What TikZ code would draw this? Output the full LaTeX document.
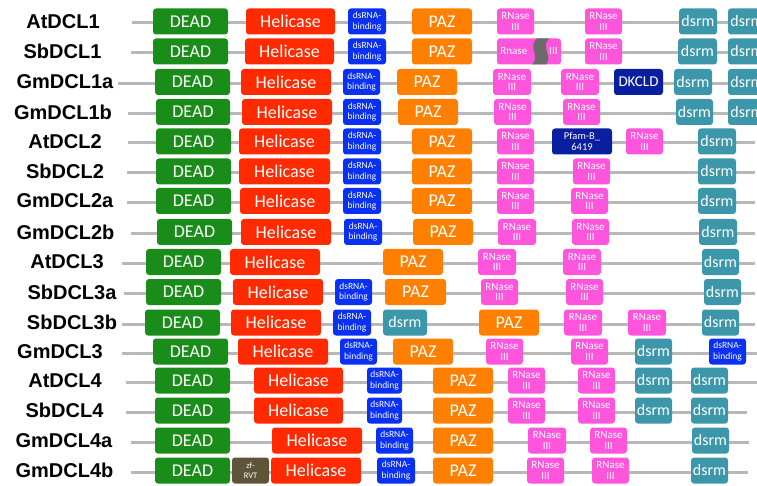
\documentclass[tikz,border=0pt]{standalone}
\usepackage{fontspec}
\setmainfont{Carlito}
\newfontfamily\labelfont{Liberation Sans}
\definecolor{deadgreen}{HTML}{1A8C1A}
\definecolor{helred}{HTML}{FF2A00}
\definecolor{dsblue}{HTML}{0A30F2}
\definecolor{pazorange}{HTML}{FF8000}
\definecolor{rnpink}{HTML}{FF55DC}
\definecolor{dsrmteal}{HTML}{3B97A9}
\definecolor{navy}{HTML}{0A1FA0}
\definecolor{zfbrown}{HTML}{5E5539}
\definecolor{backgray}{HTML}{B8B8B8}
% one row: name, label x, y, line start, line end
\newcommand\protrow[5]{%
  \def\ry{#3}\def\rn{#1}%
  \node[rowlabel] (#1) at (#2,#3) {#1};
  \coordinate (#1-s) at (#4,#3+1.5);
  \coordinate (#1-e) at (#5,#3+1.5);
  \draw[backbone] (#1-s) -- (#1-e);}
% one domain: style, left, right, tag, text
\newcommand\dm[5]{\node[#1,minimum width={#3-#2}] (\rn-#4) at ({(#2+#3)/2},\ry) {#5};}
\begin{document}
\begin{tikzpicture}[x=1pt,y=-1pt]
  \tikzset{
    rowlabel/.style={font=\labelfont\bfseries\fontsize{20}{20}\selectfont},
    backbone/.style={backgray,line width=3pt},
    dom/.style={rounded corners=3pt,inner sep=0pt,minimum height=26pt,
      text=white,align=center,font=\fontsize{18}{18}\selectfont},
    dead/.style={dom,fill=deadgreen},
    hel/.style={dom,fill=helred},
    dsbind/.style={dom,fill=dsblue,font=\fontsize{9.5}{10.5}\selectfont},
    paz/.style={dom,fill=pazorange},
    rnase/.style={dom,fill=rnpink,font=\fontsize{11}{10.5}\selectfont},
    dsrm/.style={dom,fill=dsrmteal,font=\fontsize{16}{16}\selectfont},
    dkcld/.style={dom,fill=navy,font=\fontsize{15}{15}\selectfont},
    pfam/.style={dom,fill=navy,font=\fontsize{10.5}{11}\selectfont},
    zfrvt/.style={dom,fill=zfbrown,font=\fontsize{8.5}{10}\selectfont}
  }
  \useasboundingbox (0,0) rectangle (757,486);
  \clip (0,0) rectangle (757,486);
  % DCL1
  \protrow{AtDCL1}{63}{21.5}{132}{757}
  \dm{dead}{153}{228}{dead}{DEAD}
  \dm{hel}{246}{335}{hel}{Helicase}
  \dm{dsbind}{348}{386}{ds}{dsRNA-\\binding}
  \dm{paz}{412}{472}{paz}{PAZ}
  \dm{rnase}{497}{534}{rn1}{RNase\\III}
  \dm{rnase}{585}{622}{rn2}{RNase\\III}
  \dm{dsrm}{679}{717}{dsrm1}{dsrm}
  \dm{dsrm}{728}{766}{dsrm2}{dsrm}
  \protrow{SbDCL1}{62.5}{51.5}{131}{757}
  \dm{dead}{153}{228}{dead}{DEAD}
  \dm{hel}{245}{334}{hel}{Helicase}
  \dm{dsbind}{348}{386}{ds}{dsRNA-\\binding}
  \dm{paz}{412}{472}{paz}{PAZ}
  \dm{rnase}{497}{561}{rn1}{Rnase\hspace{22pt}III}
  \fill[black!58] (537,38.5) .. controls (527,47) and (541,56) .. (532,64.5)
    -- (546,64.5) .. controls (553,56) and (540,47) .. (549,38.5) -- cycle;
  \dm{rnase}{585}{622}{rn2}{RNase\\III}
  \dm{dsrm}{678}{717}{dsrm1}{dsrm}
  \dm{dsrm}{728}{766}{dsrm2}{dsrm}
  \protrow{GmDCL1a}{65}{82}{118}{757}
  \dm{dead}{155}{230}{dead}{DEAD}
  \dm{hel}{241}{331}{hel}{Helicase}
  \dm{dsbind}{343}{380}{ds}{dsRNA-\\binding}
  \dm{paz}{397}{457}{paz}{PAZ}
  \dm{rnase}{493}{531}{rn1}{RNase\\III}
  \dm{rnase}{561}{599}{rn2}{RNase\\III}
  \dm{dkcld}{614}{663}{dk}{DKCLD}
  \dm{dsrm}{674}{712}{dsrm1}{dsrm}
  \dm{dsrm}{728}{766}{dsrm2}{dsrm}
  \protrow{GmDCL1b}{63}{112}{128}{757}
  \dm{dead}{156}{230}{dead}{DEAD}
  \dm{hel}{242}{332}{hel}{Helicase}
  \dm{dsbind}{343}{381}{ds}{dsRNA-\\binding}
  \dm{paz}{398}{458}{paz}{PAZ}
  \dm{rnase}{494}{531}{rn1}{RNase\\III}
  \dm{rnase}{563}{600}{rn2}{RNase\\III}
  \dm{dsrm}{676}{713}{dsrm1}{dsrm}
  \dm{dsrm}{728}{766}{dsrm2}{dsrm}
  % DCL2
  \protrow{AtDCL2}{65}{141.5}{128}{755}
  \dm{dead}{156}{231}{dead}{DEAD}
  \dm{hel}{239}{330}{hel}{Helicase}
  \dm{dsbind}{343}{381}{ds}{dsRNA-\\binding}
  \dm{paz}{412}{472}{paz}{PAZ}
  \dm{rnase}{497}{534}{rn1}{RNase\\III}
  \dm{pfam}{552}{612}{pf}{Pfam-B\_\\6419}
  \dm{rnase}{626}{663}{rn2}{RNase\\III}
  \dm{dsrm}{698}{736}{dsrm1}{dsrm}
  \protrow{SbDCL2}{65}{171.5}{127}{755}
  \dm{dead}{156}{231}{dead}{DEAD}
  \dm{hel}{239}{330}{hel}{Helicase}
  \dm{dsbind}{343}{381}{ds}{dsRNA-\\binding}
  \dm{paz}{412}{472}{paz}{PAZ}
  \dm{rnase}{497}{534}{rn1}{RNase\\III}
  \dm{rnase}{573}{610}{rn2}{RNase\\III}
  \dm{dsrm}{698}{736}{dsrm1}{dsrm}
  \protrow{GmDCL2a}{65}{201}{127}{755}
  \dm{dead}{156}{231}{dead}{DEAD}
  \dm{hel}{240}{330}{hel}{Helicase}
  \dm{dsbind}{343}{381}{ds}{dsRNA-\\binding}
  \dm{paz}{412}{472}{paz}{PAZ}
  \dm{rnase}{497}{534}{rn1}{RNase\\III}
  \dm{rnase}{571}{608}{rn2}{RNase\\III}
  \dm{dsrm}{698}{736}{dsrm1}{dsrm}
  \protrow{GmDCL2b}{65.5}{232}{131}{755}
  \dm{dead}{157}{232}{dead}{DEAD}
  \dm{hel}{241}{331}{hel}{Helicase}
  \dm{dsbind}{344}{382}{ds}{dsRNA-\\binding}
  \dm{paz}{413}{473}{paz}{PAZ}
  \dm{rnase}{498}{536}{rn1}{RNase\\III}
  \dm{rnase}{572}{609}{rn2}{RNase\\III}
  \dm{dsrm}{699}{737}{dsrm1}{dsrm}
  % DCL3
  \protrow{AtDCL3}{67}{262}{122}{755}
  \dm{dead}{146}{221}{dead}{DEAD}
  \dm{hel}{230}{320}{hel}{Helicase}
  \dm{paz}{383}{443}{paz}{PAZ}
  \dm{rnase}{478}{516}{rn1}{RNase\\III}
  \dm{rnase}{563}{601}{rn2}{RNase\\III}
  \dm{dsrm}{702}{739}{dsrm1}{dsrm}
  \protrow{SbDCL3a}{72}{292}{124}{755}
  \dm{dead}{146}{221}{dead}{DEAD}
  \dm{hel}{233}{323}{hel}{Helicase}
  \dm{dsbind}{335}{372}{ds}{dsRNA-\\binding}
  \dm{paz}{385}{446}{paz}{PAZ}
  \dm{rnase}{481}{518}{rn1}{RNase\\III}
  \dm{rnase}{566}{603}{rn2}{RNase\\III}
  \dm{dsrm}{704}{741}{dsrm1}{dsrm}
  \protrow{SbDCL3b}{72}{322.5}{122}{755}
  \dm{dead}{145}{220}{dead}{DEAD}
  \dm{hel}{231}{321}{hel}{Helicase}
  \dm{dsbind}{333}{371}{ds}{dsRNA-\\binding}
  \dm{dsrm}{383}{427}{dsrm1}{dsrm}
  \dm{paz}{479}{539}{paz}{PAZ}
  \dm{rnase}{564}{602}{rn1}{RNase\\III}
  \dm{rnase}{628}{666}{rn2}{RNase\\III}
  \dm{dsrm}{702}{739}{dsrm2}{dsrm}
  \protrow{GmDCL3}{60}{351.5}{122}{757}
  \dm{dead}{153}{228}{dead}{DEAD}
  \dm{hel}{238}{328}{hel}{Helicase}
  \dm{dsbind}{340}{377}{ds1}{dsRNA-\\binding}
  \dm{paz}{393}{453}{paz}{PAZ}
  \dm{rnase}{486}{523}{rn1}{RNase\\III}
  \dm{rnase}{571}{608}{rn2}{RNase\\III}
  \dm{dsrm}{635}{672}{dsrm1}{dsrm}
  \dm{dsbind}{709}{746}{ds2}{dsRNA-\\binding}
  % DCL4
  \protrow{AtDCL4}{65}{380.5}{126}{757}
  \dm{dead}{155}{230}{dead}{DEAD}
  \dm{hel}{254}{343}{hel}{Helicase}
  \dm{dsbind}{367}{402}{ds}{dsRNA-\\binding}
  \dm{paz}{433}{493}{paz}{PAZ}
  \dm{rnase}{508}{545}{rn1}{RNase\\III}
  \dm{rnase}{578}{615}{rn2}{RNase\\III}
  \dm{dsrm}{635}{672}{dsrm1}{dsrm}
  \dm{dsrm}{691}{728}{dsrm2}{dsrm}
  \protrow{SbDCL4}{64.5}{410.5}{126}{747}
  \dm{dead}{155}{230}{dead}{DEAD}
  \dm{hel}{254}{343}{hel}{Helicase}
  \dm{dsbind}{367}{402}{ds}{dsRNA-\\binding}
  \dm{paz}{433}{493}{paz}{PAZ}
  \dm{rnase}{508}{545}{rn1}{RNase\\III}
  \dm{rnase}{578}{615}{rn2}{RNase\\III}
  \dm{dsrm}{635}{672}{dsrm1}{dsrm}
  \dm{dsrm}{691}{728}{dsrm2}{dsrm}
  \protrow{GmDCL4a}{64}{440.5}{131}{749}
  \dm{dead}{155}{230}{dead}{DEAD}
  \dm{hel}{272}{362}{hel}{Helicase}
  \dm{dsbind}{376}{413}{ds}{dsRNA-\\binding}
  \dm{paz}{433}{493}{paz}{PAZ}
  \dm{rnase}{528}{566}{rn1}{RNase\\III}
  \dm{rnase}{590}{627}{rn2}{RNase\\III}
  \dm{dsrm}{692}{729}{dsrm1}{dsrm}
  \protrow{GmDCL4b}{64.5}{470.5}{131}{748}
  \dm{dead}{155}{230}{dead}{DEAD}
  \dm{zfrvt}{232}{269}{zf}{zf-\\RVT}
  \dm{hel}{271}{361}{hel}{Helicase}
  \dm{dsbind}{377}{415}{ds}{dsRNA-\\binding}
  \dm{paz}{433}{493}{paz}{PAZ}
  \dm{rnase}{527}{564}{rn1}{RNase\\III}
  \dm{rnase}{592}{629}{rn2}{RNase\\III}
  \dm{dsrm}{691}{728}{dsrm1}{dsrm}
\end{tikzpicture}
\end{document}
